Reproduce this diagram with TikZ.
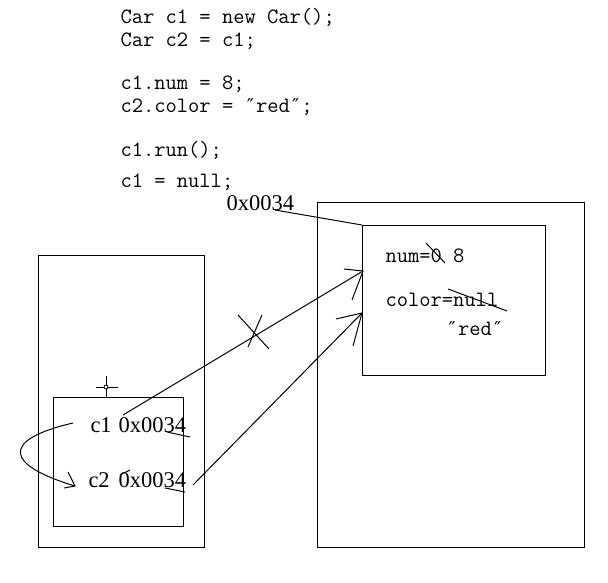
\documentclass[tikz,border=0pt]{standalone}
\usepackage{fontspec}
\newfontfamily\addrfont{Liberation Serif}
\newfontfamily\qfont{DejaVu Sans}
\newcommand{\dq}{\makebox[11.5pt]{\qfont\fontsize{19}{20}\selectfont ″}}
\begin{document}
\begin{tikzpicture}[x=1pt,y=-1pt,line width=1pt,
  code/.style={anchor=base west,inner sep=0pt,font=\fontsize{21.9}{24}\ttfamily},
  addr/.style={anchor=base west,inner sep=0pt,font=\fontsize{22.5}{24}\addrfont},
  box/.style={draw,anchor=north west,inner sep=0pt},
  stroke/.style={line width=1pt}]
\useasboundingbox (0,0) rectangle (608,583);
% code
\node[code] (l1) at (120,24) {Car c1 = new Car();};
\node[code] (l2) at (120,47) {Car c2 = c1;};
\node[code] (l3) at (120,90) {c1.num = 8;};
\node[code] (l4) at (120,113) {c2.color = \dq red\dq;};
\node[code] (l5) at (120,157) {c1.run();};
\node[code] (l6) at (120,188) {c1 = null;};
% boxes
\node[box,minimum width=166pt,minimum height=292pt] (stack) at (38,255) {};
\node[box,minimum width=130pt,minimum height=129pt] (frame) at (53,397) {};
\node[box,minimum width=267pt,minimum height=345pt] (heap) at (317,202) {};
\node[box,minimum width=183pt,minimum height=150pt] (obj) at (362,225) {};
% heap texts
\node[code] (num) at (385,262) {num=0 8};
\node[code] (col) at (385,306) {color=null};
\node[code] (red) at (446,335) {\dq red\dq};
% address label
\node[addr] (addr) at (226,211) {0x0034};
% stack texts
\node[addr] (c1) at (90,432) {c1};
\node[addr] (v1) at (118,432) {0x0034};
\node[addr] (c2) at (88,487) {c2};
\node[addr] (v2) at (118,487) {0x0034};
% coordinates
\coordinate (a0) at (275,210);
\coordinate (a1) at (362,225);
\coordinate (s1) at (123,415);
\coordinate (t1) at (363,271);
\coordinate (s2) at (193,485);
\coordinate (t2) at (362,313);
\coordinate (cs) at (73,423);
\coordinate (ce) at (75,486);
\coordinate (ch) at (106,387);
% connectors
\draw[stroke] (a0) -- (a1);
\draw[stroke] (s1) -- (t1);
\draw[stroke] (344,269) -- (t1) -- (352,300);
\draw[stroke] (s2) -- (t2);
\draw[stroke] (336,319) -- (t2) -- (353,346);
\draw[stroke] (cs) .. controls (0,440) and (5,465) .. (ce);
\draw[stroke] (68,472) -- (ce) -- (64,488);
% X mark on crossed reference
\draw[stroke] (238,315) -- (269,349);
\draw[stroke] (262,315) -- (248,347);
% strike-throughs
\draw[stroke] (426,243) -- (445,263);
\draw[stroke] (448,289) -- (507,311);
\draw[stroke] (167,432) -- (190,437);
\draw[stroke] (165,488) -- (185,492);
\draw[stroke] (120,475) -- (130,470);
% crosshair
\draw[stroke] (96,387) -- (118,387);
\draw[stroke] (106,376) -- (106,397);
\draw[line width=0.8pt,fill=white] (ch) circle (2pt);
\end{tikzpicture}
\end{document}
